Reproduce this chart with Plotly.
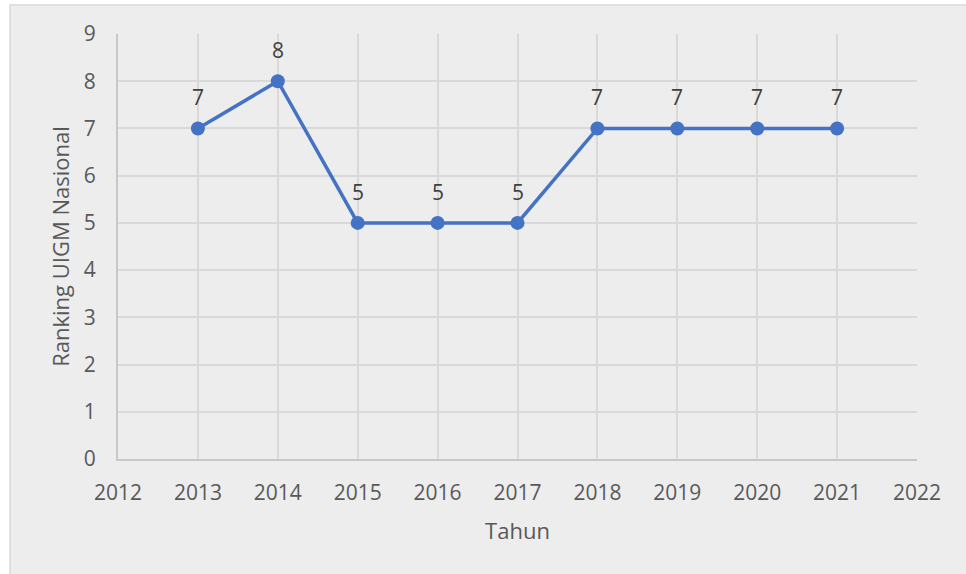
import plotly.graph_objects as go

years = [2013, 2014, 2015, 2016, 2017, 2018, 2019, 2020, 2021]
ranking = [7, 8, 5, 5, 5, 7, 7, 7, 7]
x_ticks = [2012, 2013, 2014, 2015, 2016, 2017, 2018, 2019, 2020, 2021, 2022]
y_ticks = [0, 1, 2, 3, 4, 5, 6, 7, 8, 9]

W, H = 966, 574
L, R, T, B = 118, 49, 34, 115
pw, ph = W - L - R, H - T - B

font_family = "Open Sans, Noto Sans, sans-serif"
text_color = "#595959"
blue = "#4472C4"
bg = "#EDEDED"
grid = "#D9D9D9"

fig = go.Figure()
fig.add_trace(go.Scatter(
    x=years, y=ranking, mode="lines+markers",
    line=dict(color=blue, width=3.5),
    marker=dict(color=blue, size=14),
    hoverinfo="x+y", showlegend=False,
))

for xv, yv in zip(years, ranking):
    fig.add_annotation(x=xv, y=yv, text=str(yv), showarrow=False,
                       yshift=31, font=dict(family=font_family, size=21, color="#404040"))

def px_to_paper_x(p):
    return (p - L) / pw

def px_to_paper_y(p):
    return 1 - (p - T) / ph

fig.add_shape(type="rect", xref="paper", yref="paper",
              x0=px_to_paper_x(10), x1=px_to_paper_x(975),
              y0=px_to_paper_y(585), y1=px_to_paper_y(5),
              fillcolor=bg, line=dict(color="#D9D9D9", width=1.5), layer="below")

fig.update_layout(
    width=W, height=H,
    margin=dict(l=L, r=R, t=T, b=B),
    paper_bgcolor="white", plot_bgcolor=bg,
    font=dict(family=font_family, size=21, color=text_color),
    xaxis=dict(
        range=[2012, 2022], tickmode="array", tickvals=x_ticks,
        ticktext=[str(v) for v in x_ticks],
        showgrid=True, gridcolor=grid, gridwidth=1.5,
        showline=True, linecolor="#C8C8C8", linewidth=2, mirror=False,
        zeroline=False, ticks="", ticklabelstandoff=14,
        title=dict(text="Tahun", standoff=18, font=dict(size=22)),
    ),
    yaxis=dict(
        range=[0, 9], tickmode="array", tickvals=y_ticks,
        showgrid=True, gridcolor=grid, gridwidth=1.5,
        showline=True, linecolor="#C8C8C8", linewidth=2,
        zeroline=False, ticks="", ticklabelstandoff=16,
        title=dict(text="Ranking UIGM Nasional", standoff=8, font=dict(size=22)),
    ),
)

fig.write_html("out.html", config={"displayModeBar": False},
               post_script="document.body.style.margin='0px';")
